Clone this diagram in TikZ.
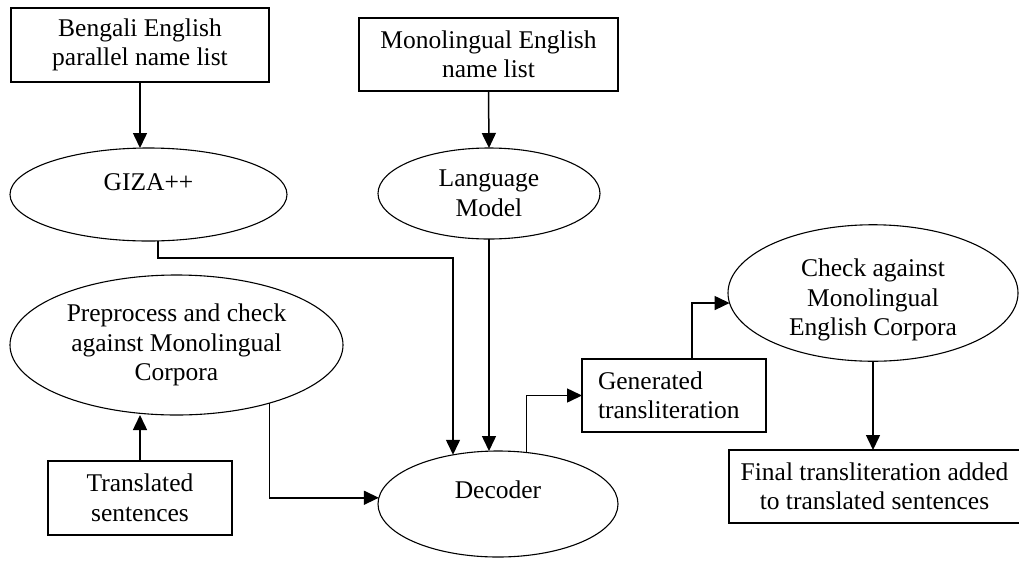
\documentclass[tikz,border=0pt]{standalone}
\usepackage{fontspec}
\setmainfont{Liberation Serif}
\usetikzlibrary{arrows.meta,shapes.geometric}
\tikzset{
  txt/.style={font=\fontsize{25.5}{29.5}\selectfont, text=black, align=center},
  boxnode/.style={txt, draw=black, line width=1.5pt, rectangle, inner sep=0pt, outer sep=0pt},
  ellnode/.style={txt, draw=black, line width=1.1pt, ellipse, inner sep=0pt, outer sep=0pt},
  arr/.style={draw=black, line width=1.5pt, -{Triangle[length=15pt,width=14pt]}},
}
\begin{document}
\begin{tikzpicture}[x=1pt,y=-1pt]
\useasboundingbox (0,0) rectangle (1019,560);
\fill[white] (0,0) rectangle (1019,560);

% boxes
\node[boxnode, minimum width=258pt, minimum height=74pt] (b1) at (140,45) {Bengali English\\parallel name list};
\node[boxnode, minimum width=259pt, minimum height=73pt] (b2) at (488.5,54.5) {Monolingual English\\name list};
\node[boxnode, minimum width=184pt, minimum height=74pt] (trans) at (140,498) {Translated\\sentences};
\node[boxnode, minimum width=184pt, minimum height=73pt, text width=152pt, align=left] (gen) at (674,395.5) {Generated\\transliteration};
\node[boxnode, minimum width=291pt, minimum height=73pt] (fin) at (874.5,486.5) {Final transliteration added\\to translated sentences};

% ellipses
\node[ellnode, minimum width=277pt, minimum height=93pt, text depth=25pt] (giza) at (148.5,194.5) {GIZA++};
\node[ellnode, minimum width=222pt, minimum height=91pt] (lm) at (489,193.5) {Language\\Model};
\node[ellnode, minimum width=333pt, minimum height=140pt] (pre) at (176.5,345) {Preprocess and check\\against Monolingual\\Corpora};
\node[ellnode, minimum width=240pt, minimum height=106pt, text depth=28pt] (dec) at (498,504) {Decoder};
\node[ellnode, minimum width=290pt, minimum height=128pt, text height=91pt] (chk) at (873,293) {Check against\\Monolingual\\English Corpora};

% helper coordinates
\coordinate (gd) at (453,258);

% connectors
\draw[arr] (b1.south) -- (b1.south |- giza.north);
\draw[arr] (b2.south) -- (lm.north);
\draw[arr] ([xshift=9.5pt]giza.south) |- (gd) -- (dec.132.6 -| gd);
\draw[arr] (lm.south) -- (lm.south |- dec.north);
\draw[arr] (trans.north) -- (trans.north |- pre.south);
\draw[arr] (pre.-32.6) |- (dec.177.6);
\draw[arr] (dec.61.5) |- (gen.west);
\draw[arr] ([xshift=18pt]gen.north) |- (chk.184.2);
\draw[arr] (chk.south) -- (chk.south |- fin.north);
\end{tikzpicture}
\end{document}
